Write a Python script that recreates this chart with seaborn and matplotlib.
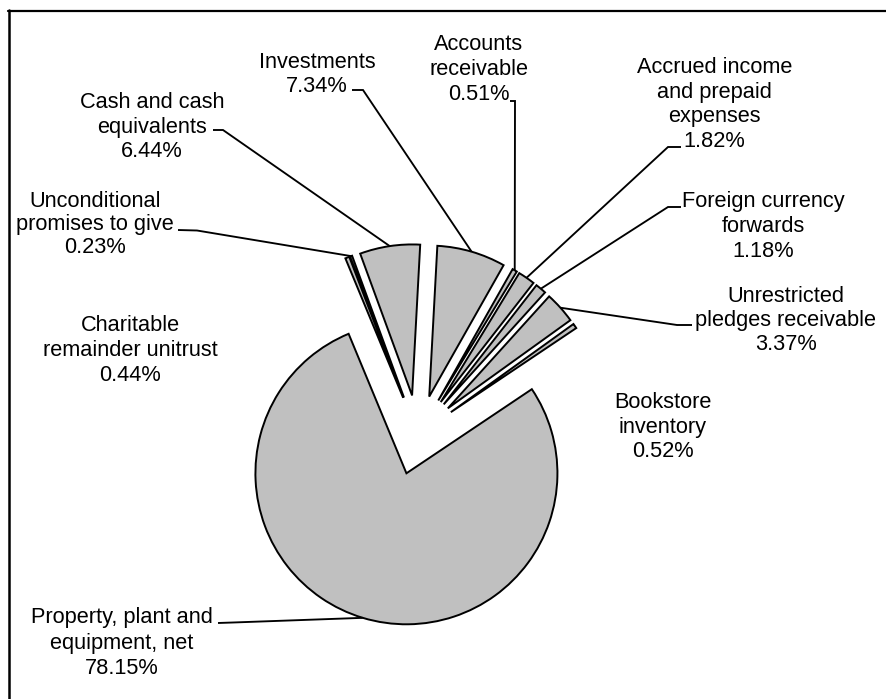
import numpy as np
import matplotlib
matplotlib.use("Agg")
import matplotlib.pyplot as plt
import seaborn as sns

# Asset categories, in the order the slices run clockwise around the pie
categories = [
    "Cash and cash\nequivalents",
    "Investments",
    "Accounts\nreceivable",
    "Accrued income\nand prepaid\nexpenses",
    "Foreign currency\nforwards",
    "Unrestricted\npledges receivable",
    "Bookstore\ninventory",
    "Property, plant and\nequipment, net",
    "Charitable\nremainder unitrust",
    "Unconditional\npromises to give",
]
shares = [6.44, 7.34, 0.51, 1.82, 1.18, 3.37, 0.52, 78.15, 0.44, 0.23]

sns.set_theme(style="white")
plt.rcParams["font.family"] = ["Liberation Sans", "DejaVu Sans"]

W, H = 886, 699
fig = plt.figure(figsize=(W / 100, H / 100), dpi=100)
ax = fig.add_axes([0, 0, 1, 1])


def px(x, y):
    """Pixel position measured from the top-left corner -> axes data coords."""
    return x, H - y


fill = sns.color_palette(["#c0c0c0"])[0]
radius = 151
offset = 40  # every slice pulled out from the centre by the same distance

wedges, _ = ax.pie(
    shares,
    startangle=110.1,
    counterclock=False,
    radius=radius,
    center=px(418, 435),
    explode=[offset] * len(shares),
    colors=[fill] * len(shares),
    wedgeprops=dict(edgecolor="black", linewidth=1.4, antialiased=True),
)


def arc_mid(w):
    t = np.deg2rad(0.5 * (w.theta1 + w.theta2))
    cx, cy = w.center
    return cx + w.r * np.cos(t), cy + w.r * np.sin(t)


# label layout: centre x, first baseline, line step, leader (start, elbow) or None
layout = {
    "Cash and cash\nequivalents": (152, 108, 24.5, ((213, 130), (223, 130))),
    "Investments": (317, 68, 24.0, ((352, 90), (363, 90))),
    "Accounts\nreceivable": (479, 50, 25.0, ((510, 101), (515, 101))),
    "Accrued income\nand prepaid\nexpenses": (714.5, 73, 24.6, ((681, 147), (668, 147))),
    "Foreign currency\nforwards": (763.5, 207, 25.0, ((681, 207), (668, 207))),
    "Unrestricted\npledges receivable": (786, 301.5, 24.3, ((692, 325), (677, 325))),
    "Bookstore\ninventory": (663, 408, 24.5, None),
    "Property, plant and\nequipment, net": (121.5, 623, 25.5, ((218, 623), (233, 622.5))),
    "Charitable\nremainder unitrust": (130, 331, 24.8, None),
    "Unconditional\npromises to give": (95, 207, 23.2, ((178, 230), (197, 230.5))),
}

fs = 15.7
for w, name, share in zip(wedges, categories, shares):
    cx, b0, step, leader = layout[name]
    lines = name.split("\n") + [f"{share:.2f}%"]
    for i, line in enumerate(lines):
        x, y = px(cx, b0 + i * step)
        ax.text(x, y, line, ha="center", va="baseline", fontsize=fs, color="black")
    if leader is not None:
        (sx, sy), (ex, ey) = leader
        mx, my = arc_mid(w)
        p0 = px(sx, sy)
        p1 = px(ex, ey)
        ax.plot([p0[0], p1[0], mx], [p0[1], p1[1], my], color="black",
                linewidth=1.35, solid_capstyle="butt", solid_joinstyle="miter")

# frame lines along the top and left edges
ax.plot([8, W], [H - 11, H - 11], color="black", linewidth=1.6, clip_on=False)
ax.plot([9.5, 9.5], [H - 10, 0], color="black", linewidth=1.8, clip_on=False)

ax.set_xlim(0, W)
ax.set_ylim(0, H)
ax.set_aspect("equal", adjustable="box")
ax.axis("off")

fig.savefig("out.png", dpi=100, facecolor="white")
